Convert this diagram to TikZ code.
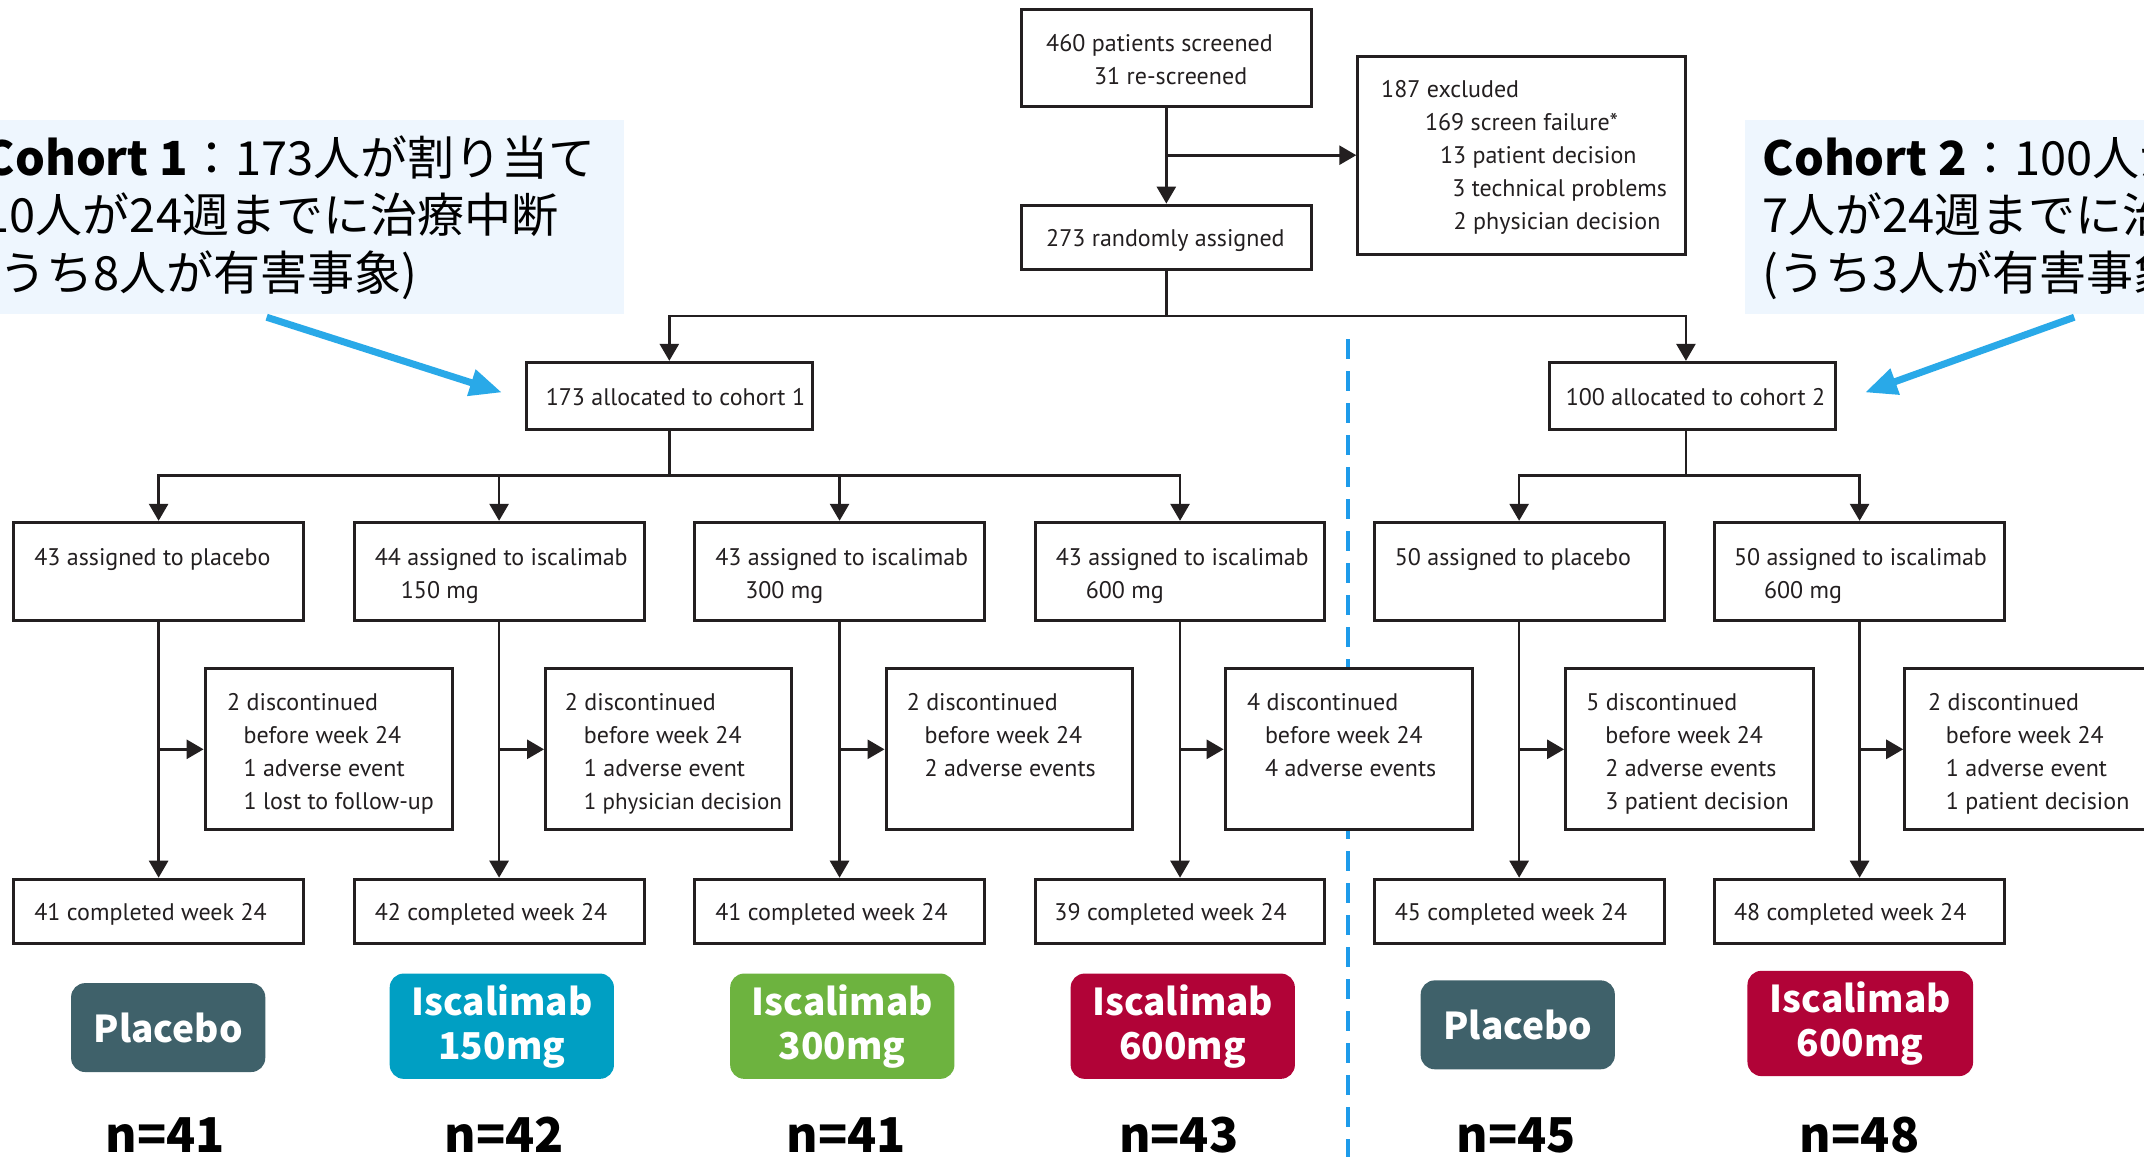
\documentclass[tikz,border=0pt]{standalone}
\usepackage{fontspec}
\setmainfont{PT Sans}
\newfontfamily\jp{Noto Sans CJK JP}
\usetikzlibrary{arrows.meta,fit}
\definecolor{ink}{HTML}{231F20}
\definecolor{annbg}{HTML}{EEF6FE}
\definecolor{annarrow}{HTML}{29A9E8}
\definecolor{divider}{HTML}{1E9BEA}
\definecolor{cPlacebo}{HTML}{3F616A}
\definecolor{cLow}{HTML}{009FC3}
\definecolor{cMid}{HTML}{6DB33F}
\definecolor{cHigh}{HTML}{B10337}
\begin{document}
\begin{tikzpicture}[x=1.3673pt,y=-1.3673pt,
  fbox/.style={draw=ink, line width=3pt, fill=white, inner sep=0pt, rectangle},
  txt/.style={font=\fontsize{24}{33}\selectfont, text=ink, align=left, inner sep=0pt, anchor=north west},
  arr/.style={draw=ink, line width=2.7pt, -{Triangle[length=17pt,width=19pt]}},
  conn/.style={draw=ink, line width=2.7pt},
  badgebox/.style={rounded corners=14pt, inner sep=0pt, draw=none},
  badgetext/.style={text=white, font=\jp\bfseries\fontsize{37}{44}\selectfont, align=center, inner sep=0pt},
  ncount/.style={font=\jp\bfseries\fontsize{48}{56}\selectfont, text=black, inner sep=0pt},
  ann/.style={fill=annbg, inner sep=0pt, rectangle},
  anntext/.style={font=\jp\fontsize{47}{57.4}\selectfont, text=black, align=left, inner sep=0pt, anchor=north west},
  annarr/.style={draw=annarrow, line width=7pt, -{Triangle[length=32pt,width=26pt]}},
  divline/.style={draw=divider, line width=4pt, dash pattern=on 20pt off 12pt},
]
\useasboundingbox (0,0) rectangle (1568,845.5);
\clip (0,0) rectangle (1568,845.5);
\fill[white] (0,0) rectangle (1568,845.5);

% annotation panels
\node[ann, fit={(-5,88)(456,230)}] (ann1) {};
\node[ann, fit={(1276,88)(1575,230)}] (ann2) {};
\node[anntext] (ann1t) at (-12,98.6) {\strut\textbf{Cohort 1}：173人が割り当て\\\strut 10人が24週までに治療中断\\\strut(うち8人が有害事象)};
\node[anntext] (ann2t) at (1289,98.6) {\strut\textbf{Cohort 2}：100人が割り当て\\\strut 7人が24週までに治療中断\\\strut(うち3人が有害事象)};

% divider
\coordinate (divtop) at (986,248);
\coordinate (divbot) at (986,850);
\draw[divline] (divtop) -- (divbot);

% top boxes
\node[fbox, fit={(747,7)(959,78)}] (scr) {};
\node[txt] (scrt) at (765,20.3) {\strut 460 patients screened\\\strut\hspace*{47.9pt}31 re-screened};
\node[fbox, fit={(747,150)(959,197)}] (rnd) {};
\node[txt] (rndt) at (765,163.3) {\strut 273 randomly assigned};
\node[fbox, fit={(993,41)(1233,186)}] (exc) {};
\node[txt] (exct) at (1010,54.3) {\strut 187 excluded\\\strut\hspace*{43.8pt}169 screen failure*\\\strut\hspace*{58.8pt}13 patient decision\\\strut\hspace*{71.1pt}3 technical problems\\\strut\hspace*{72.5pt}2 physician decision};

% cohorts
\node[fbox, fit={(385,265)(594,314)}] (c1) {};
\node[txt] (c1t) at (399,279.3) {\strut 173 allocated to cohort 1};
\node[fbox, fit={(1133,265)(1342,314)}] (c2) {};
\node[txt] (c2t) at (1145,279.3) {\strut 100 allocated to cohort 2};

% arms
\node[fbox, fit={(10,382)(222,454)}] (a1) {};
\node[fbox, fit={(259,382)(471,454)}] (a2) {};
\node[fbox, fit={(508,382)(720,454)}] (a3) {};
\node[fbox, fit={(757,382)(969,454)}] (a4) {};
\node[fbox, fit={(1005,382)(1217,454)}] (a5) {};
\node[fbox, fit={(1254,382)(1466,454)}] (a6) {};
\node[txt] (a1t) at (25,396.3) {\strut 43 assigned to placebo};
\node[txt] (a2t) at (274,396.3) {\strut 44 assigned to iscalimab\\\strut\hspace*{26pt}150 mg};
\node[txt] (a3t) at (523,396.3) {\strut 43 assigned to iscalimab\\\strut\hspace*{30pt}300 mg};
\node[txt] (a4t) at (772,396.3) {\strut 43 assigned to iscalimab\\\strut\hspace*{30pt}600 mg};
\node[txt] (a5t) at (1020,396.3) {\strut 50 assigned to placebo};
\node[txt] (a6t) at (1268,396.3) {\strut 50 assigned to iscalimab\\\strut\hspace*{30pt}600 mg};

% discontinued
\node[fbox, fit={(150,489)(331,607)}] (d1) {};
\node[fbox, fit={(399,489)(579,607)}] (d2) {};
\node[fbox, fit={(648,489)(828,607)}] (d3) {};
\node[fbox, fit={(896,489)(1077,607)}] (d4) {};
\node[fbox, fit={(1145,489)(1326,607)}] (d5) {};
\node[fbox, fit={(1393,489)(1574,607)}] (d6) {};
\node[txt] (d1t) at (166,502.3) {\strut 2 discontinued\\\strut\hspace*{16.4pt}before week 24\\\strut\hspace*{16.4pt}1 adverse event\\\strut\hspace*{16.4pt}1 lost to follow-up};
\node[txt] (d2t) at (413,502.3) {\strut 2 discontinued\\\strut\hspace*{19pt}before week 24\\\strut\hspace*{19pt}1 adverse event\\\strut\hspace*{19pt}{\fontsize{23}{33}\selectfont 1 physician decision}};
\node[txt] (d3t) at (663,502.3) {\strut 2 discontinued\\\strut\hspace*{17.8pt}before week 24\\\strut\hspace*{17.8pt}2 adverse events};
\node[txt] (d4t) at (912,502.3) {\strut 4 discontinued\\\strut\hspace*{17.8pt}before week 24\\\strut\hspace*{17.8pt}4 adverse events};
\node[txt] (d5t) at (1160,502.3) {\strut 5 discontinued\\\strut\hspace*{19pt}before week 24\\\strut\hspace*{19pt}2 adverse events\\\strut\hspace*{19pt}3 patient decision};
\node[txt] (d6t) at (1410,502.3) {\strut 2 discontinued\\\strut\hspace*{17.8pt}before week 24\\\strut\hspace*{17.8pt}1 adverse event\\\strut\hspace*{17.8pt}1 patient decision};

% completed
\node[fbox, fit={(10,643)(222,690)}] (k1) {};
\node[fbox, fit={(259,643)(471,690)}] (k2) {};
\node[fbox, fit={(508,643)(720,690)}] (k3) {};
\node[fbox, fit={(757,643)(969,690)}] (k4) {};
\node[fbox, fit={(1005,643)(1217,690)}] (k5) {};
\node[fbox, fit={(1254,643)(1466,690)}] (k6) {};
\node[txt] (k1t) at (25,656.3) {\strut 41 completed week 24};
\node[txt] (k2t) at (274,656.3) {\strut 42 completed week 24};
\node[txt] (k3t) at (523,656.3) {\strut 41 completed week 24};
\node[txt] (k4t) at (771,656.3) {\strut 39 completed week 24};
\node[txt] (k5t) at (1020,656.3) {\strut 45 completed week 24};
\node[txt] (k6t) at (1268,656.3) {\strut 48 completed week 24};

% connectors
\draw[arr] (scr.south) -- (rnd.north);
\draw[arr] (scr.south |- exc.west) -- (exc.west);
\coordinate (sp0) at (853,231);
\coordinate (sp1) at (489.5,348);
\coordinate (sp2) at (1233,348);
\draw[conn] (rnd.south) -- (sp0);
\draw[arr] (sp0) -| (c1.north);
\draw[arr] (sp0) -| (c2.north -| sp2);
\draw[conn] (c1.south) -- (sp1);
\foreach \a in {a1,a2,a3,a4} {\draw[arr] (sp1) -| (\a.north);}
\draw[conn] (c2.south -| sp2) -- (sp2);
\foreach \a in {a5,a6} {\draw[arr] (sp2) -| (\a.north);}
\foreach \i in {1,...,6} {
  \draw[arr] (a\i.south) -- (k\i.north);
  \draw[arr] (a\i.south |- d\i.west) -- (d\i.west);
}

% annotation arrows
\coordinate (aa1s) at (195,232);
\coordinate (aa1e) at (367,287);
\coordinate (aa2s) at (1517,232);
\coordinate (aa2e) at (1364,287);
\draw[annarr] (aa1s) -- (aa1e);
\draw[annarr] (aa2s) -- (aa2e);

% badges
\node[badgebox, fill=cPlacebo, fit={(52,719)(194,784)}] (b1) {};
\node[badgebox, fill=cLow, fit={(285,712)(449,789)}] (b2) {};
\node[badgebox, fill=cMid, fit={(534,712)(698,789)}] (b3) {};
\node[badgebox, fill=cHigh, fit={(783,712)(947,789)}] (b4) {};
\node[badgebox, fill=cPlacebo, fit={(1039,717)(1181,782)}] (b5) {};
\node[badgebox, fill=cHigh, fit={(1278,710)(1443,787)}] (b6) {};
\node[badgetext] (b1t) at (b1.center) {Placebo};
\node[badgetext] (b2t) at (b2.center) {Iscalimab\\150mg};
\node[badgetext] (b3t) at (b3.center) {Iscalimab\\300mg};
\node[badgetext] (b4t) at (b4.center) {Iscalimab\\600mg};
\node[badgetext] (b5t) at (b5.center) {Placebo};
\node[badgetext] (b6t) at (b6.center) {Iscalimab\\600mg};

\node[ncount] (n1) at (121,830) {n=41};
\node[ncount] (n2) at (369,830) {n=42};
\node[ncount] (n3) at (619,830) {n=41};
\node[ncount] (n4) at (862,830) {n=43};
\node[ncount] (n5) at (1109,830) {n=45};
\node[ncount] (n6) at (1360,830) {n=48};
\end{tikzpicture}
\end{document}
